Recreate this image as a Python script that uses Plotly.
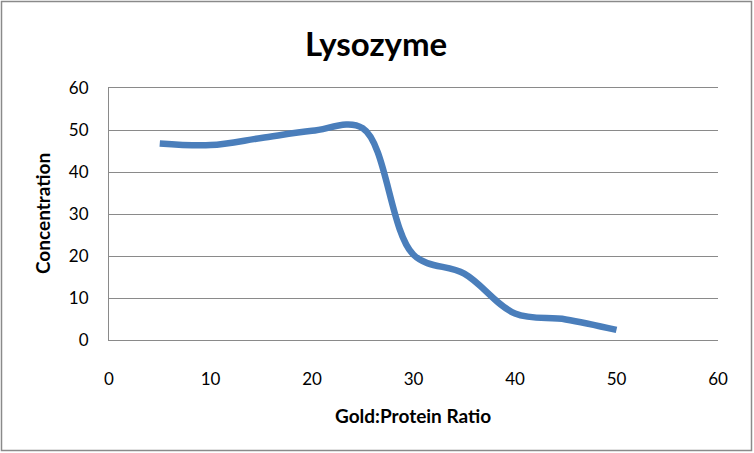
import plotly.graph_objects as go

ratio = [5, 10, 15, 20, 25, 30, 35, 40, 45, 50]
concentration = [46.8, 46.4, 48.1, 49.8, 50.4, 20.3, 15.8, 6.3, 4.9, 2.4]

x_ticks = [0, 10, 20, 30, 40, 50, 60]
y_ticks = [0, 10, 20, 30, 40, 50, 60]

W, H = 754, 453
L, R, T, B = 109, 36, 88, 113
pw, ph = W - L - R, H - T - B

def px_x(p):  # pixel -> paper x
    return (p - L) / pw

def px_y(p):  # pixel -> paper y
    return (H - B - p) / ph

fig = go.Figure()
fig.add_trace(go.Scatter(
    x=ratio, y=concentration, mode="lines",
    line=dict(color="#4a7ebb", width=6.5, shape="spline", smoothing=1.0),
    showlegend=False, hoverinfo="skip",
))

font = "Lato, 'Open Sans', sans-serif"
grid = "#8a8a8a"
fig.update_layout(
    template="none",
    width=W, height=H,
    margin=dict(l=L, r=R, t=T, b=B, autoexpand=False),
    paper_bgcolor="white", plot_bgcolor="white",
    font=dict(family=font, color="black"),
    xaxis=dict(range=[0, 60], tickvals=x_ticks, ticktext=[str(v) for v in x_ticks],
               showgrid=False, zeroline=False, showline=True, linecolor=grid, linewidth=1,
               mirror=True, ticks="", automargin=False,
               tickfont=dict(size=17, color="black"), ticklabelstandoff=24),
    yaxis=dict(range=[0, 60], tickvals=y_ticks, ticktext=[str(v) for v in y_ticks],
               showgrid=True, gridcolor=grid, gridwidth=1, zeroline=False,
               showline=True, linecolor=grid, linewidth=1, ticks="", automargin=False,
               tickfont=dict(size=17, color="black"), ticklabelstandoff=16),
    annotations=[
        dict(text="<b>Lysozyme</b>", xref="paper", yref="paper",
             x=px_x(376), y=px_y(43), xanchor="center", yanchor="middle",
             showarrow=False, font=dict(family=font, size=33, color="black")),
        dict(text="<b>Gold:Protein Ratio</b>", xref="paper", yref="paper",
             x=px_x(413), y=px_y(415), xanchor="center", yanchor="middle",
             showarrow=False, font=dict(family=font, size=19, color="black")),
        dict(text="<b>Concentration</b>", xref="paper", yref="paper",
             x=px_x(42), y=px_y(214), xanchor="center", yanchor="middle", textangle=-90,
             showarrow=False, font=dict(family=font, size=19, color="black")),
    ],
    shapes=[dict(type="rect", xref="paper", yref="paper",
                 x0=px_x(1.5), x1=px_x(W - 2.5),
                 y0=px_y(H - 2.5), y1=px_y(1.5),
                 line=dict(color=grid, width=1.5), layer="below")],
)

fig.write_html("out.html", config={"displayModeBar": False},
               post_script="document.body.style.margin='0';")
